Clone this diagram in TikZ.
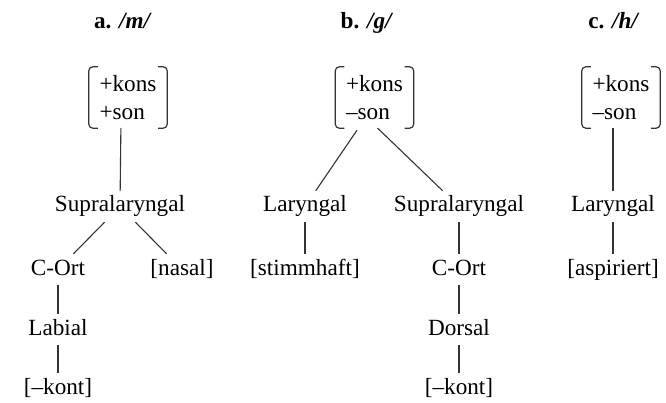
\documentclass[tikz,border=0pt]{standalone}
\usepackage{fontspec}
\setmainfont{Liberation Serif}
\definecolor{linegray}{rgb}{0.2,0.2,0.2}

\begin{document}
\begin{tikzpicture}[x=1pt,y=-1pt,
  every node/.style={font=\fontsize{23.2}{28}\selectfont},
  lab/.style={anchor=base,inner xsep=2pt,inner ysep=5pt,text height=16pt,text depth=5pt},
  feat/.style={align=left,minimum width=78pt,minimum height=61pt,inner sep=0pt},
  ttl/.style={anchor=base,font=\fontsize{23.2}{28}\selectfont\bfseries},
  ast/.style={line width=1.1pt,color=linegray},
  brk/.style={line width=1.2pt,color=linegray,rounded corners=4pt}]
  \useasboundingbox (0,0) rectangle (666,403);

  \node[ttl] (ta) at (123,29) {a. \textit{/m/}};
  \node[ttl] (tb) at (367,29) {b. \textit{/g/}};
  \node[ttl] (tc) at (614,29) {c. \textit{/h/}};

  \node[feat] (fa) at (128,97.5) {+kons\\+son};
  \node[feat] (fb) at (374.5,97.5) {+kons\\\textendash son};
  \node[feat] (fc) at (621,97.5) {+kons\\\textendash son};
  \foreach \f in {fa,fb,fc} {
    \draw[brk] ([xshift=9pt]\f.north west) -- (\f.north west) -- (\f.south west) -- ([xshift=9pt]\f.south west);
    \draw[brk] ([xshift=-9pt]\f.north east) -- (\f.north east) -- (\f.south east) -- ([xshift=-9pt]\f.south east);
  }
  \coordinate (ra) at (121,117);
  \coordinate (rb) at (366,117);
  \coordinate (rc) at (613,117);

  \node[lab] (supa) at (120,212) {Supralaryngal};
  \node[lab] (corta) at (58,275) {C-Ort};
  \node[lab] (nasa) at (182,275) {[nasal]};
  \node[lab] (laba) at (58,335) {Labial};
  \node[lab] (konta) at (58,394) {[\textendash kont]};

  \node[lab] (larb) at (305,212) {Laryngal};
  \node[lab] (stib) at (305,275) {[stimmhaft]};
  \node[lab] (supb) at (459,212) {Supralaryngal};
  \node[lab] (cortb) at (459,275) {C-Ort};
  \node[lab] (dorb) at (459,335) {Dorsal};
  \node[lab] (kontb) at (459,394) {[\textendash kont]};

  \node[lab] (larc) at (613,212) {Laryngal};
  \node[lab] (aspc) at (613,275) {[aspiriert]};

  \draw[ast,shorten <=11pt] (ra) -- (supa);
  \draw[ast] (supa) -- (corta);
  \draw[ast] (supa) -- (nasa);
  \draw[ast] (corta) -- (laba);
  \draw[ast] (laba) -- (konta);

  \draw[ast,shorten <=16pt] (rb) -- (larb);
  \draw[ast,shorten <=16pt] (rb) -- (supb);
  \draw[ast] (larb) -- (stib);
  \draw[ast] (supb) -- (cortb);
  \draw[ast] (cortb) -- (dorb);
  \draw[ast] (dorb) -- (kontb);

  \draw[ast,shorten <=11pt] (rc) -- (larc);
  \draw[ast] (larc) -- (aspc);
\end{tikzpicture}
\end{document}
